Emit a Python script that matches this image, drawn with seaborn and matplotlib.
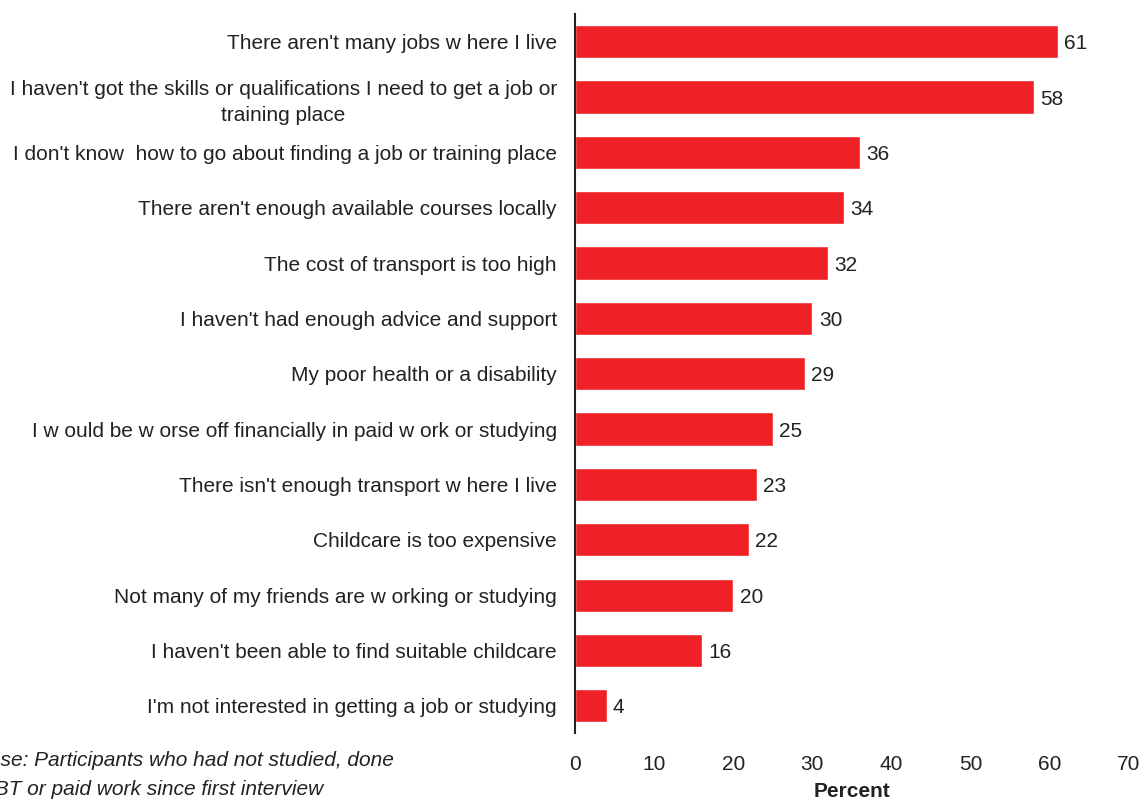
import matplotlib
matplotlib.use("Agg")
import matplotlib.pyplot as plt
import seaborn as sns
import pandas as pd

categories = [
    "There aren't many jobs w here I live",
    "I haven't got the skills or qualifications I need to get a job or\ntraining place",
    "I don't know  how to go about finding a job or training place",
    "There aren't enough available courses locally",
    "The cost of transport is too high",
    "I haven't had enough advice and support",
    "My poor health or a disability",
    "I w ould be w orse off financially in paid w ork or studying",
    "There isn't enough transport w here I live",
    "Childcare is too expensive",
    "Not many of my friends are w orking or studying",
    "I haven't been able to find suitable childcare",
    "I'm not interested in getting a job or studying",
]
values = [61, 58, 36, 34, 32, 30, 29, 25, 23, 22, 20, 16, 4]
x_ticks = [0, 10, 20, 30, 40, 50, 60, 70]

sns.set_theme(style="white")
plt.rcParams['font.family'] = ['Liberation Sans', 'DejaVu Sans']

df = pd.DataFrame({"cat": categories, "val": values})
FS = 15
TC = "#222222"

fig = plt.figure(figsize=(11.47, 8.01), dpi=100)
ax = fig.add_axes([0.5013, 0.0843, 0.4830, 0.8982])
sns.barplot(data=df, x="val", y="cat", color="#EE2126", width=0.6,
            saturation=1, ax=ax, orient="h")
ax.set_xlim(0, 70)
ax.set_ylim(len(categories) - 0.5, -0.5)
ax.set_xticks(x_ticks)
ax.set_xticklabels([str(t) for t in x_ticks], fontsize=FS, color=TC)
ax.tick_params(axis="y", labelsize=FS, labelcolor=TC, length=0, pad=13)
ax.tick_params(axis="x", length=0, pad=15.5)
for lbl in ax.get_yticklabels():
    lbl.set_horizontalalignment("right")
    lbl.set_multialignment("center")
    lbl.set_linespacing(1.45)
ax.set_ylabel("")
ax.set_xlabel("Percent", fontsize=FS, fontweight="bold", color=TC, labelpad=6)
for s in ["top", "right", "bottom"]:
    ax.spines[s].set_visible(False)
ax.spines["left"].set_color(TC)
ax.spines["left"].set_linewidth(1.5)

for i, v in enumerate(values):
    ax.text(v + 0.8, i, str(v), va="center_baseline", ha="left", fontsize=FS, color=TC)

fig.text(-0.022, 0.032, "Base: Participants who had not studied, done\nWBT or paid work since first interview",
         fontsize=FS, style="italic", color=TC, ha="left", va="center", linespacing=1.65)

fig.savefig("out.png", dpi=100)
